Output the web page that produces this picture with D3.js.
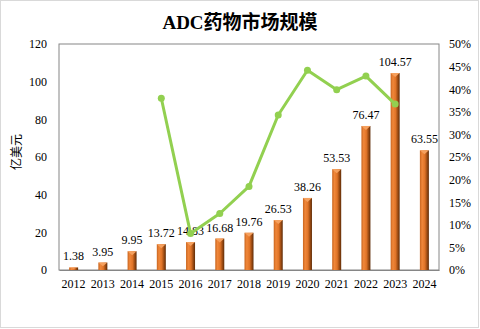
<!DOCTYPE html>
<html><head><meta charset="utf-8">
<script src="https://cdn.jsdelivr.net/npm/d3@7"></script>
<style>html,body{margin:0;padding:0;background:#fff;}svg{display:block;}</style>
</head><body>
<script>
const years = ["2012","2013","2014","2015","2016","2017","2018","2019","2020","2021","2022","2023","2024"];
const marketSize = [1.38,3.95,9.95,13.72,14.83,16.68,19.76,26.53,38.26,53.53,76.47,104.57,63.55];
const growth = [null,null,null,0.380,0.081,0.125,0.185,0.343,0.442,0.399,0.429,0.367,null];
const leftTicks = [0,20,40,60,80,100,120];
const rightTicks = [0,0.05,0.10,0.15,0.20,0.25,0.30,0.35,0.40,0.45,0.50];
const title = "ADC药物市场规模";
const yTitle = "亿美元";

const W = 480, H = 329;
const m = {l:59, r:41, t:44, b:59};
const svg = d3.select("body").append("svg").attr("width", W).attr("height", H);

svg.append("rect").attr("x",0.5).attr("y",0.5).attr("width",W-2).attr("height",H-2)
  .attr("fill","#fff").attr("stroke","#d9d9d9");

const defs = svg.append("defs");
const g1 = defs.append("linearGradient").attr("id","barg").attr("x1","0").attr("x2","1").attr("y1","0").attr("y2","0");
g1.append("stop").attr("offset","0%").attr("stop-color","#c8651f");
g1.append("stop").attr("offset","25%").attr("stop-color","#f0873a");
g1.append("stop").attr("offset","55%").attr("stop-color","#e07428");
g1.append("stop").attr("offset","80%").attr("stop-color","#9a4a12");
g1.append("stop").attr("offset","100%").attr("stop-color","#5e2c08");

const x = d3.scaleBand().domain(years).range([m.l, W-m.r]).padding(0);
const yL = d3.scaleLinear().domain([0,120]).range([H-m.b, m.t]);
const yR = d3.scaleLinear().domain([0,0.5]).range([H-m.b, m.t]);

const serif = "'Liberation Serif','Times New Roman',serif";

// title
svg.append("text").attr("x",240).attr("y",29).attr("text-anchor","middle")
  .attr("font-family", serif + ",'Noto Sans CJK SC'").attr("font-weight","bold").attr("font-size",19)
  .attr("fill","#000").text(title);

// plot frame
svg.append("rect").attr("x",m.l).attr("y",m.t).attr("width",W-m.r-m.l).attr("height",H-m.b-m.t)
  .attr("fill","none").attr("stroke","#868686").attr("stroke-width",1);

// left axis
const axL = svg.append("g").attr("transform",`translate(${m.l},0)`)
  .call(d3.axisLeft(yL).tickValues(leftTicks).tickSize(0).tickPadding(12));
axL.select(".domain").remove();
axL.selectAll("text").attr("font-family",serif).attr("font-size",12).attr("fill","#000");

// right axis
const axR = svg.append("g").attr("transform",`translate(${W-m.r},0)`)
  .call(d3.axisRight(yR).tickValues(rightTicks).tickSize(0).tickPadding(10).tickFormat(d3.format(".0%")));
axR.select(".domain").remove();
axR.selectAll("text").attr("font-family",serif).attr("font-size",12).attr("fill","#000");

// bottom axis
const axB = svg.append("g").attr("transform",`translate(0,${H-m.b})`)
  .call(d3.axisBottom(x).tickSize(0).tickPadding(9));
axB.select(".domain").attr("stroke","#868686");
axB.selectAll("text").attr("font-family",serif).attr("font-size",12).attr("fill","#000");

// y title
svg.append("text").attr("transform","translate(21,152) rotate(-90)").attr("text-anchor","middle")
  .attr("font-family","'Noto Sans CJK SC',sans-serif").attr("font-size",12).attr("fill","#000").text(yTitle);

// bars
const bw = 9;
const bars = svg.append("g");
years.forEach((yr,i)=>{
  const cx = x(yr) + x.bandwidth()/2;
  const top = yL(marketSize[i]);
  const bottom = yL(0);
  bars.append("rect").attr("x",cx-bw/2).attr("y",top).attr("width",bw).attr("height",bottom-top)
    .attr("fill","url(#barg)");
  const cap = Math.min(4, (bottom-top)/2);
  bars.append("path").attr("d",`M${cx-bw/2},${top}L${cx+bw/2},${top}L${cx},${top+cap}Z`).attr("fill","#f5a05e");
  bars.append("text").attr("x",cx).attr("y",top-7).attr("text-anchor","middle")
    .attr("font-family",serif).attr("font-size",12).attr("fill","#000").text(marketSize[i].toFixed(2));
});

// growth line
const pts = years.map((yr,i)=>({yr, v:growth[i]})).filter(d=>d.v!==null);
const line = d3.line().x(d=>x(d.yr)+x.bandwidth()/2).y(d=>yR(d.v));
svg.append("path").datum(pts).attr("d",line).attr("fill","none").attr("stroke","#92d050").attr("stroke-width",3)
  .attr("stroke-linejoin","round");
svg.append("g").selectAll("circle").data(pts).join("circle")
  .attr("cx",d=>x(d.yr)+x.bandwidth()/2).attr("cy",d=>yR(d.v)).attr("r",3.5).attr("fill","#92d050");
</script>
</body></html>
